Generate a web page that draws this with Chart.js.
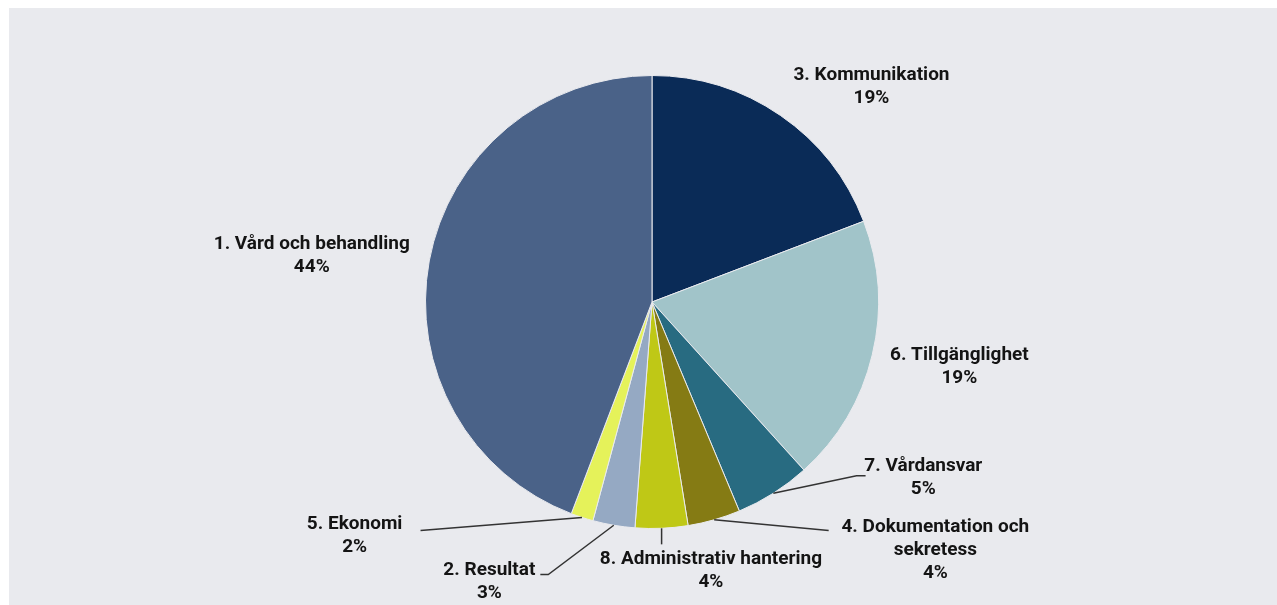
<!DOCTYPE html>
<html>
<head>
<meta charset="utf-8">
<script src="https://cdn.jsdelivr.net/npm/chart.js@4.4.1/dist/chart.umd.min.js"></script>
<style>
    html, body { margin: 0; padding: 0; background: #ffffff; }
    #wrap { position: absolute; left: 9px; top: 8px; width: 1268px; height: 597px; background: #e9eaee; }
</style>
</head>
<body>
<div id="wrap"><canvas id="pie"></canvas></div>
<script>
// Data (clockwise from 12 o'clock)
const categories = [
    "3. Kommunikation",
    "6. Tillgänglighet",
    "7. Vårdansvar",
    "4. Dokumentation och|sekretess",
    "8. Administrativ hantering",
    "2. Resultat",
    "5. Ekonomi",
    "1. Vård och behandling"
];
const shares = [19.2, 19.1, 5.4, 3.75, 3.75, 3.0, 1.6, 44.2];
const colors = ["#0a2b57", "#a1c4c9", "#286b81", "#857b14", "#bfc816", "#95a9c3", "#e5f25a", "#4a6288"];

// Label placement, in units of the pie radius from its centre
const placement = [
    {text: [0.969, -1.000]},
    {text: [1.357, 0.234]},
    {text: [1.198, 0.723], line: [[0.903, 0.767], [0.943, 0.767]]},
    {text: [1.251, 0.996], line: [[0.780, 1.009]]},
    {text: [0.260, 1.137], line: [[null, 1.070]]},
    {text: [-0.718, 1.185], line: [[-0.458, 1.203], [-0.493, 1.203]]},
    {text: [-1.313, 0.983], line: [[-1.022, 1.009]]},
    {text: [-1.502, -0.255]}
];

// Plugin: labels with leader lines
const pieLabels = {
    id: "pieLabels",
    afterDatasetsDraw(chart) {
        const ctx = chart.ctx;
        const meta = chart.getDatasetMeta(0);
        const data = chart.data.datasets[0].data;
        const total = data.reduce((a, b) => a + b, 0);
        meta.data.forEach((arc, i) => {
            const {x, y, outerRadius: r, startAngle, endAngle} = arc.getProps(["x", "y", "outerRadius", "startAngle", "endAngle"], true);
            const mid = (startAngle + endAngle) / 2;
            const p = placement[i];
            ctx.save();
            if (p.line) {
                const sx = x + Math.cos(mid) * r;
                const sy = y + Math.sin(mid) * r;
                ctx.beginPath();
                ctx.moveTo(sx, sy);
                p.line.forEach(pt => {
                    ctx.lineTo(pt[0] === null ? sx : x + pt[0] * r, y + pt[1] * r);
                });
                ctx.strokeStyle = "#333333";
                ctx.lineWidth = 1.5;
                ctx.stroke();
            }
            const lines = chart.data.labels[i].split("|");
            lines.push(Math.round(data[i] / total * 100) + "%");
            ctx.font = "bold 19px Roboto";
            ctx.fillStyle = "#141414";
            ctx.textAlign = "center";
            ctx.textBaseline = "middle";
            const tx = x + p.text[0] * r;
            const ty = y + p.text[1] * r;
            lines.forEach((t, k) => ctx.fillText(t, tx, ty + k * 23));
            ctx.restore();
        });
    }
};

new Chart(document.querySelector("#pie"), {
    type: "pie",
    data: {
        labels: categories,
        datasets: [{
            data: shares,
            backgroundColor: colors,
            borderColor: "#e9eaee",
            borderWidth: 1
        }]
    },
    options: {
        responsive: true,
        maintainAspectRatio: false,
        animation: false,
        layout: {padding: {top: 67, bottom: 76, left: 18, right: 0}},
        plugins: {
            legend: {display: false},
            tooltip: {enabled: false}
        }
    },
    plugins: [pieLabels]
});
</script>
</body>
</html>
